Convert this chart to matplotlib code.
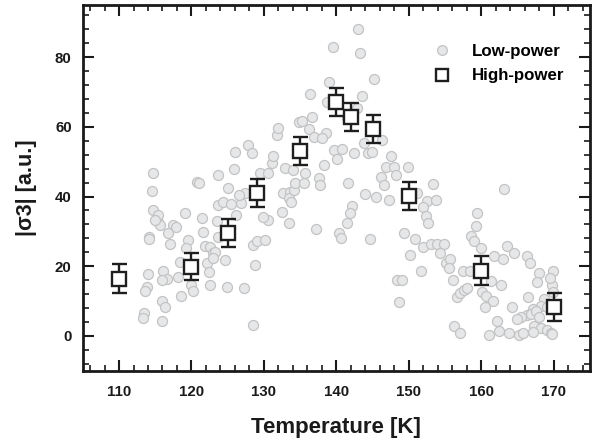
import matplotlib
matplotlib.use('Agg')
import matplotlib.pyplot as plt
from matplotlib.lines import Line2D
from matplotlib.ticker import MultipleLocator

# Low-power measurements (Temperature [K], |sigma3| [a.u.])
low_T = [115.4, 115.6, 117.5, 117.9, 116.8, 114.2, 114.1, 117.1, 119.5, 119.3,
         121.6, 121.9, 122.5, 123.0, 122.1, 122.4, 122.5, 118.4, 118.2, 120.2,
         120.0, 120.2, 118.6, 116.1, 116.6, 116.0, 114.0, 113.8, 113.6, 115.9,
         116.4, 113.4, 113.3, 116.0, 124.6, 124.9, 127.2, 128.8, 128.5, 128.5,
         129.0, 130.2, 133.4, 130.5, 123.7, 114.5, 114.7, 115.4, 114.9, 119.1,
         121.4, 123.5, 123.7, 124.4, 125.4, 126.9, 126.2, 127.4, 129.9, 123.2,
         123.0, 114.7, 120.7, 121.1, 123.6, 125.0, 125.8, 126.0, 127.8, 128.3,
         126.5, 129.5, 130.6, 131.1, 131.3, 131.8, 132.0, 132.9, 132.7, 133.6,
         133.4, 134.1, 134.8, 132.5, 134.3, 134.0, 139.6, 143.2, 145.2, 139.0,
         136.4, 143.5, 138.7, 142.8, 141.5, 136.7, 135.3, 136.2, 136.9, 138.5,
         138.0, 139.7, 140.8, 140.1, 142.4, 144.3, 144.9, 146.3, 147.6, 146.9,
         147.9, 148.2, 149.9, 146.1, 146.6, 141.6, 138.3, 137.6, 137.7, 135.5,
         135.7, 143.0, 143.8, 153.4, 163.2, 144.0, 145.5, 147.2, 151.1, 152.5,
         153.7, 142.1, 141.9, 152.0, 159.4, 133.7, 137.2, 141.4, 140.3, 140.7,
         144.6, 149.3, 150.9, 152.0, 150.2, 151.7, 148.4, 149.1, 148.7, 152.3,
         152.6, 153.0, 153.9, 154.9, 154.3, 155.1, 155.7, 155.5, 156.1, 156.6,
         157.0, 157.6, 158.0, 156.3, 157.0, 159.2, 158.6, 159.0, 159.9, 157.5,
         158.4, 161.3, 162.7, 160.1, 160.7, 161.6, 160.5, 161.7, 163.0, 163.6,
         164.5, 166.3, 166.7, 167.9, 167.7, 169.9, 169.8, 169.9, 166.4, 168.6,
         168.3, 167.1, 166.3, 165.5, 164.9, 164.3, 162.2, 162.5, 161.0, 163.8,
         165.2, 165.8, 167.3, 168.3, 169.1, 169.6, 169.8, 166.9, 167.6, 167.1,
         169.5, 169.1, 167.9]
low_V = [32.8, 31.9, 31.9, 31.2, 29.5, 28.3, 27.9, 26.4, 27.5, 25.2,
         29.8, 25.8, 25.6, 23.7, 20.9, 18.2, 14.6, 21.3, 17.0, 19.4,
         14.6, 12.9, 11.5, 18.5, 16.3, 16.1, 17.8, 14.1, 12.9, 10.1,
         8.4, 6.7, 5.1, 4.4, 21.8, 14.1, 13.7, 20.4, 3.2, 26.1,
         27.3, 27.5, 32.3, 33.3, 28.5, 41.5, 36.2, 34.7, 33.3, 35.4,
         33.8, 33.1, 37.6, 38.5, 37.9, 38.2, 34.7, 40.9, 34.2, 24.2,
         22.3, 46.7, 44.3, 44.0, 46.2, 42.4, 47.8, 52.9, 54.8, 52.4,
         40.5, 46.7, 46.7, 49.6, 51.5, 57.7, 59.6, 48.1, 40.9, 41.4,
         39.5, 41.9, 61.5, 35.7, 43.8, 47.6, 82.8, 81.3, 73.7, 73.0,
         69.4, 68.9, 67.2, 65.3, 62.5, 62.8, 61.7, 59.3, 57.2, 58.2,
         56.7, 53.4, 53.6, 50.7, 52.4, 52.4, 52.9, 56.2, 51.6, 48.4,
         48.6, 46.2, 48.4, 45.5, 43.3, 43.8, 49.1, 45.2, 43.3, 43.8,
         46.9, 88.1, 55.5, 43.5, 42.1, 40.7, 39.8, 39.0, 41.1, 38.7,
         39.0, 37.4, 35.2, 36.9, 35.2, 38.5, 30.6, 32.5, 29.6, 28.2,
         27.7, 29.6, 27.7, 25.5, 23.2, 18.6, 15.9, 15.9, 9.8, 34.4,
         32.3, 26.4, 26.4, 26.4, 23.7, 21.0, 22.0, 19.6, 16.1, 11.1,
         12.4, 13.2, 13.7, 2.7, 0.8, 31.4, 28.7, 27.3, 25.2, 18.7,
         18.7, 15.8, 14.6, 12.7, 11.5, 10.0, 8.2, 23.0, 22.0, 25.8,
         23.7, 23.0, 20.9, 18.0, 15.6, 18.5, 14.6, 12.7, 11.1, 10.5,
         8.6, 7.7, 6.0, 5.5, 4.8, 8.2, 4.4, 1.4, 0.3, 0.8,
         0.3, 0.8, 2.9, 2.2, 1.7, 0.8, 0.5, 6.3, 7.0, 1.0,
         16.6, 8.4, 5.5]

# High-power measurements with error bars
high_T = [110, 120, 125, 129, 135, 140, 142, 145, 150, 160, 170]
high_V = [16.4, 19.9, 29.5, 40.9, 53.2, 67.2, 62.8, 59.5, 40.2, 18.7, 8.3]
high_err = [4.1, 4.0, 4.0, 4.0, 4.0, 4.0, 4.0, 4.0, 4.0, 4.1, 4.0]

x_label = 'Temperature [K]'
y_label = '|σ3| [a.u.]'
legend_labels = ['Low-power', 'High-power']

plt.rcParams['font.family'] = ['Liberation Sans', 'DejaVu Sans']
plt.rcParams['font.weight'] = 'bold'

fig = plt.figure(figsize=(6, 4.38), dpi=100)
ax = fig.add_axes([0.138, 0.1537, 0.8453, 0.8349])

circ_face = '#e6e7e8'
circ_edge = '#c3c3c3'
dark = '#1e1e1e'

ax.scatter(low_T, low_V, s=52, facecolor=circ_face, edgecolor=circ_edge,
           linewidths=0.9, zorder=2)
ax.errorbar(high_T, high_V, yerr=high_err, fmt='s', ms=9.5, mfc='white',
            mec=dark, mew=1.7, ecolor=dark, elinewidth=1.7, capsize=5.4,
            capthick=1.7, zorder=3)

ax.set_xlim(105, 175)
ax.set_ylim(-10, 95)
ax.xaxis.set_major_locator(MultipleLocator(10))
ax.xaxis.set_minor_locator(MultipleLocator(2))
ax.yaxis.set_major_locator(MultipleLocator(20))
ax.yaxis.set_minor_locator(MultipleLocator(4))

ax.tick_params(which='both', direction='in', top=True, right=True,
               colors='#1a1a1a')
ax.tick_params(which='major', length=8, width=1.5, labelsize=10.8)
ax.tick_params(axis='x', which='major', pad=10)
ax.tick_params(axis='y', which='major', pad=8)
ax.tick_params(which='minor', length=4.5, width=1.2)
for lab in ax.get_xticklabels() + ax.get_yticklabels():
    lab.set_fontweight('bold')
for sp in ax.spines.values():
    sp.set_linewidth(2)
    sp.set_color('#1a1a1a')

ax.set_xlabel(x_label, fontsize=16, fontweight='bold', labelpad=13,
              color='#1a1a1a')
ax.set_ylabel(y_label, fontsize=15.5, fontweight='bold', labelpad=13,
              color='#1a1a1a')

handles = [
    Line2D([], [], marker='o', ls='none', ms=7, mfc=circ_face, mec=circ_edge,
           mew=0.9),
    Line2D([], [], marker='s', ls='none', ms=9, mfc='white', mec=dark,
           mew=1.7),
]
leg = ax.legend(handles, legend_labels, loc='upper left',
                bbox_to_anchor=(0.675, 0.893), frameon=False, borderpad=0,
                borderaxespad=0, labelspacing=0.55, handletextpad=0.75,
                prop={'size': 12.2, 'weight': 'bold'})

fig.savefig('out.png', dpi=100)
